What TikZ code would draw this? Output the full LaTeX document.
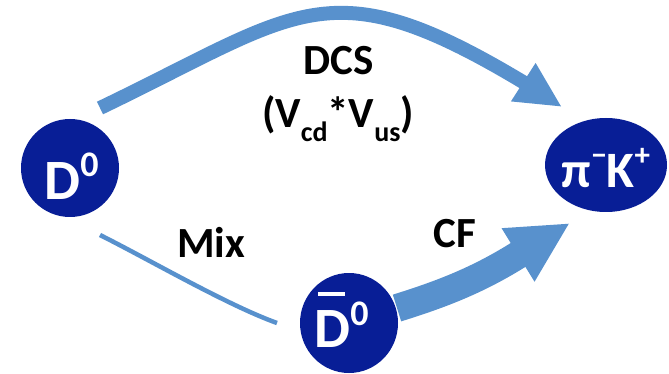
\documentclass[tikz,border=0pt]{standalone}
\usepackage{fontspec}
\setmainfont{Carlito}
\usetikzlibrary{shapes.geometric,arrows.meta,calc}
\definecolor{nodeblue}{RGB}{8,30,150}
\definecolor{arrowblue}{RGB}{88,145,205}
\newcommand{\fsz}[1]{\fontsize{#1}{#1}\selectfont}
\newcommand{\supr}[3]{\raisebox{#1pt}{\fsz{#2}#3}}
\newcommand{\subr}[3]{\raisebox{-#1pt}{\fsz{#2}#3}}
\newcommand{\barD}{\rlap{\kern0.07em\rule[0.9em]{0.47em}{0.065em}}D}
\begin{document}
\begin{tikzpicture}[x=1pt,y=-1pt,
  particle/.style={ellipse, fill=nodeblue, inner sep=0pt},
  ptext/.style={text=white, font=\bfseries\fsz{57}, anchor=base, inner sep=0pt},
  lbl/.style={text=black, font=\bfseries\fsz{43}, anchor=base, inner sep=0pt},
  flow/.style={draw=arrowblue, line cap=butt}]
\useasboundingbox (0,0) rectangle (669,374);
% particles
\node[particle, minimum width=98pt, minimum height=98pt] (d0) at (70,168) {};
\node[particle, minimum width=122pt, minimum height=94pt] (pk) at (606,165) {};
\node[particle, minimum width=98pt, minimum height=100pt] (db) at (349,323) {};
% particle texts
\node[ptext] (d0t) at (71.5,200) {D\supr{23}{36}{0}};
\node[ptext, font=\bfseries\fsz{51}] (pkt) at (606,188) {π\supr{22}{31}{−}K\supr{22}{31}{+}};
\node[ptext] (dbt) at (341.5,347) {\barD\supr{22}{36}{0}};
% labels
\node[lbl] (dcs) at (339,75) {DCS};
\node[lbl] (ckm) at (338,128) {(V\subr{14}{28}{cd}*V\subr{14}{28}{us})};
\node[lbl] (mix) at (211,257) {Mix};
\node[lbl] (cf) at (455,247) {CF};
% connectors
\coordinate (dcsS) at ($(d0)+(30,-60)$);
\coordinate (dcsE) at ($(pk)+(-44,-58)$);
\coordinate (dcsB) at ($(dcsE)+(-39,-25)$);
\draw[flow, line width=14pt, -{Triangle[width=42pt,length=46pt]}]
  (dcsS) .. controls +(200,-96) and +(-195,-117) .. (dcsB) -- (dcsE);
\coordinate (mixS) at ($(d0)+(30,67)$);
\coordinate (mixE) at ($(db)+(-72,0)$);
\draw[flow, line width=4.5pt] (mixS) .. controls +(50,25) and +(-50,-18) .. (mixE);
\coordinate (cfS) at ($(db)+(48,-15)$);
\coordinate (cfE) at ($(pk)+(-36,58)$);
\coordinate (cfB) at ($(cfE)+(-52,32)$);
\draw[flow, line width=28pt, -{Triangle[width=58pt,length=61pt]}]
  (cfS) .. controls +(45,-14) and +(-40,25) .. (cfB) -- (cfE);
\end{tikzpicture}
\end{document}
